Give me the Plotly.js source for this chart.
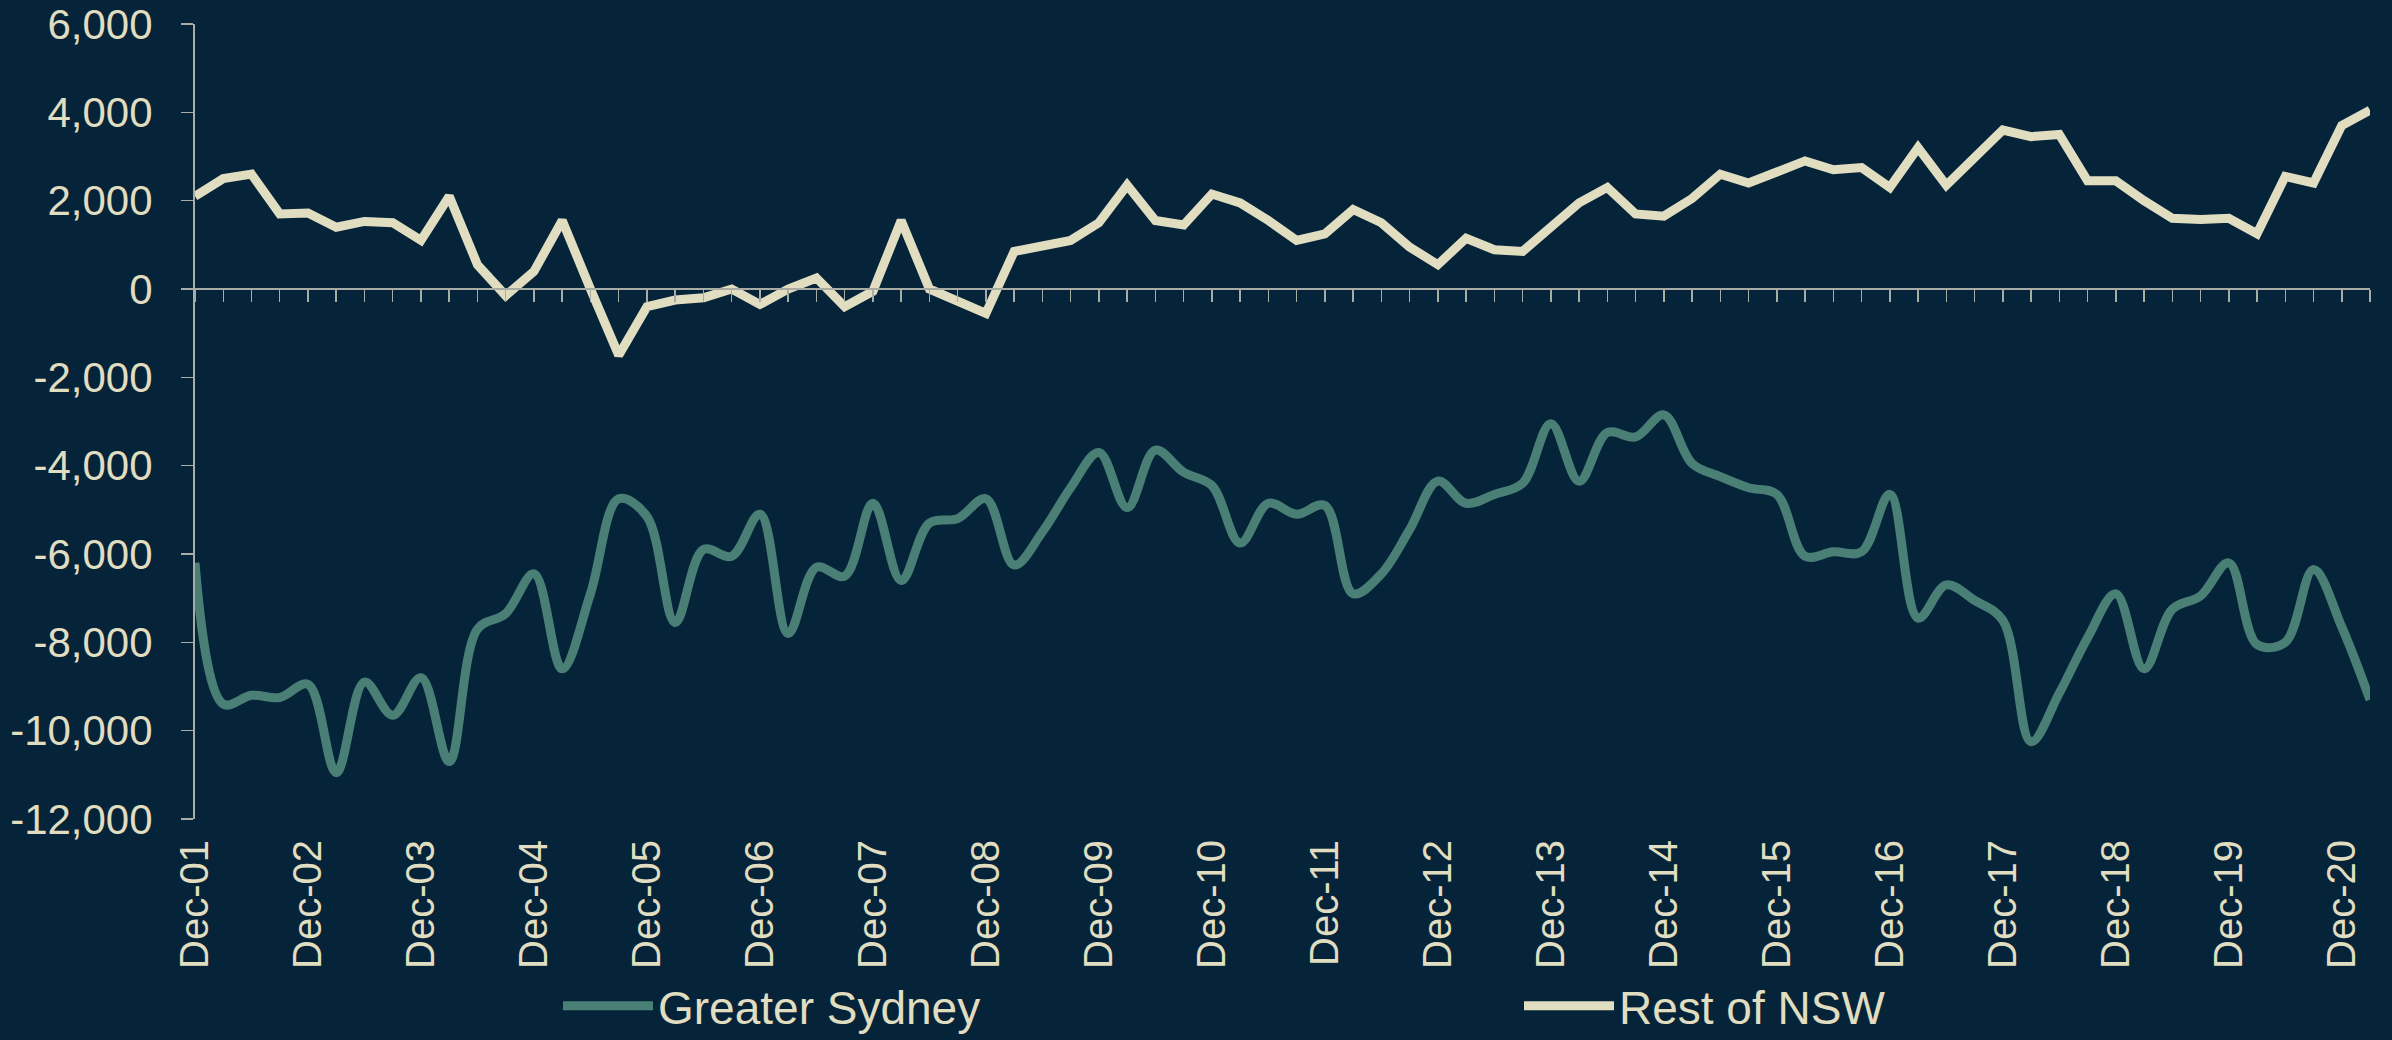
<!DOCTYPE html>
<html>
<head>
<meta charset="utf-8">
<script src="https://cdn.plot.ly/plotly-3.0.1.min.js"></script>
<style>
  html, body { margin: 0; padding: 0; background: #062439; }
  #chart { width: 2392px; height: 1040px; }
</style>
</head>
<body>
<div id="chart"></div>
<script>
const quarters = [
  "Dec-01",
  "Mar-02","Jun-02","Sep-02","Dec-02",
  "Mar-03","Jun-03","Sep-03","Dec-03",
  "Mar-04","Jun-04","Sep-04","Dec-04",
  "Mar-05","Jun-05","Sep-05","Dec-05",
  "Mar-06","Jun-06","Sep-06","Dec-06",
  "Mar-07","Jun-07","Sep-07","Dec-07",
  "Mar-08","Jun-08","Sep-08","Dec-08",
  "Mar-09","Jun-09","Sep-09","Dec-09",
  "Mar-10","Jun-10","Sep-10","Dec-10",
  "Mar-11","Jun-11","Sep-11","Dec-11",
  "Mar-12","Jun-12","Sep-12","Dec-12",
  "Mar-13","Jun-13","Sep-13","Dec-13",
  "Mar-14","Jun-14","Sep-14","Dec-14",
  "Mar-15","Jun-15","Sep-15","Dec-15",
  "Mar-16","Jun-16","Sep-16","Dec-16",
  "Mar-17","Jun-17","Sep-17","Dec-17",
  "Mar-18","Jun-18","Sep-18","Dec-18",
  "Mar-19","Jun-19","Sep-19","Dec-19",
  "Mar-20","Jun-20","Sep-20","Dec-20",
  "Mar-21"
];

const greaterSydney = [
  -6200,
  -9400, -9200, -9250, -8950,
  -10950, -8900, -9650, -8800,
  -10700, -7700, -7350, -6450,
  -8600, -6900, -4750, -5150,
  -7550, -5900, -6050, -5100,
  -7800, -6300, -6500, -4850,
  -6600, -5300, -5200, -4750,
  -6250, -5500, -4500, -3700,
  -4950, -3650, -4150, -4450,
  -5750, -4850, -5100, -4900,
  -6900, -6450, -5450, -4350,
  -4850, -4650, -4400, -3050,
  -4350, -3250, -3350, -2850,
  -3950, -4250, -4500, -4650,
  -6050, -5950, -5950, -4650,
  -7450, -6700, -7050, -7500,
  -10250, -9150, -7900, -6900,
  -8600, -7250, -6950, -6200,
  -8050, -8000, -6350, -7650,
  -9300
];

const restOfNSW = [
  2100,
  2500, 2600, 1700, 1720,
  1400, 1530, 1500, 1100,
  2100, 550, -150, 400,
  1550, 0, -1500, -400,
  -250, -200, 0, -350,
  0, 250, -400, -50,
  1550, 0, -280, -550,
  850, 1000, 1100, 1500,
  2350, 1550, 1450, 2150,
  1950, 1550, 1100, 1250,
  1800, 1500, 950, 550,
  1150, 890, 850, 1400,
  1950, 2300, 1700, 1650,
  2050, 2600, 2400, 2650,
  2900, 2700, 2750, 2300,
  3200, 2350, 2950, 3600,
  3450, 3500, 2450, 2450,
  2000, 1600, 1575, 1600,
  1250, 2550, 2400, 3700,
  4050
];

const yTicks = [6000, 4000, 2000, 0, -2000, -4000, -6000, -8000, -10000, -12000];
const yTickText = ["6,000", "4,000", "2,000", "0", "-2,000", "-4,000", "-6,000", "-8,000", "-10,000", "-12,000"];
const labelTicks = quarters.filter(q => q.startsWith("Dec"));

const BG = "#062439";
const TEAL = "#4a7f76";
const CREAM = "#e0ddc0";
const AXIS = "#a9aca2";
const FONT = "'Liberation Sans', Arial, Helvetica, sans-serif";

const traces = [
  {
    x: quarters, y: greaterSydney, name: "Greater Sydney",
    type: "scatter", mode: "lines",
    line: { color: TEAL, width: 9, shape: "spline", smoothing: 1 },
    xaxis: "x", yaxis: "y", legend: "legend"
  },
  {
    x: quarters, y: restOfNSW, name: "Rest of NSW",
    type: "scatter", mode: "lines",
    line: { color: CREAM, width: 9 },
    xaxis: "x", yaxis: "y", legend: "legend2"
  },
  {
    x: quarters, y: restOfNSW, name: "axis",
    type: "scatter", mode: "lines", showlegend: false,
    line: { color: "rgba(0,0,0,0)", width: 0 },
    xaxis: "x2", yaxis: "y", hoverinfo: "skip"
  }
];

const legendBase = {
  orientation: "h",
  xanchor: "left",
  y: -0.189, yanchor: "top",
  font: { family: FONT, size: 46, color: CREAM },
  bgcolor: "rgba(0,0,0,0)",
  borderwidth: 0,
  itemwidth: 90
};

const layout = {
  width: 2392, height: 1040,
  paper_bgcolor: BG, plot_bgcolor: BG,
  margin: { l: 195, r: 22, t: 24, b: 221, autoexpand: false },
  font: { family: FONT, color: CREAM, size: 40 },
  showlegend: true,
  legend: Object.assign({}, legendBase, { x: (566 - 195 - 8) / 2175 }),
  legend2: Object.assign({}, legendBase, { x: (1527 - 195 - 8) / 2175 }),
  xaxis: {
    type: "category",
    categoryorder: "array", categoryarray: quarters,
    range: [0, quarters.length - 1],
    tickmode: "array", tickvals: labelTicks, ticktext: labelTicks,
    tickangle: -90,
    ticks: "",
    ticklabelstandoff: 12,
    tickfont: { family: FONT, size: 40, color: CREAM },
    showline: false, showgrid: false, zeroline: false,
    automargin: false,
    fixedrange: true
  },
  xaxis2: {
    type: "category",
    categoryorder: "array", categoryarray: quarters,
    overlaying: "x",
    anchor: "free", position: 12000 / 18000,
    range: [0, quarters.length - 1],
    tickmode: "linear", tick0: 0, dtick: 1,
    ticks: "outside", ticklen: 12, tickwidth: 1.5, tickcolor: AXIS,
    showticklabels: false,
    showline: true, linecolor: AXIS, linewidth: 2,
    showgrid: false, zeroline: false,
    fixedrange: true
  },
  yaxis: {
    range: [-12000, 6000],
    tickmode: "array", tickvals: yTicks, ticktext: yTickText,
    ticks: "outside", ticklen: 12, tickwidth: 1.5, tickcolor: AXIS,
    ticklabelstandoff: 20,
    tickfont: { family: FONT, size: 42, color: CREAM },
    showline: true, linecolor: AXIS, linewidth: 2,
    showgrid: false, zeroline: false,
    automargin: false,
    fixedrange: true
  }
};

Plotly.newPlot("chart", traces, layout, { displayModeBar: false, staticPlot: true });
</script>
</body>
</html>
